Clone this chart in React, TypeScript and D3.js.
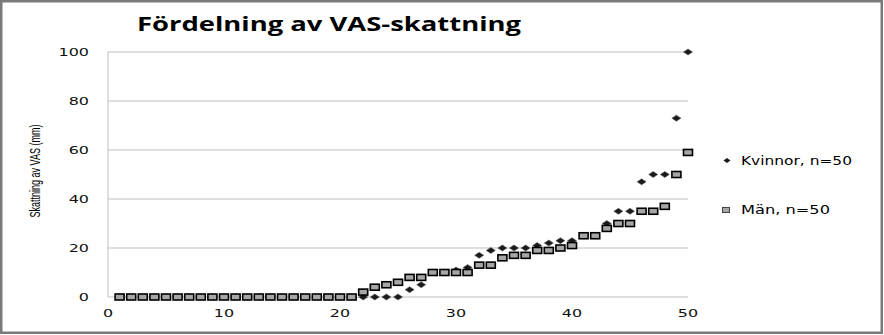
import React from "react";
import * as d3 from "d3";

const title = "Fördelning av VAS-skattning";
const yTitle = "Skattning av VAS (mm)";
const seriesNames = ["Kvinnor, n=50", "Män, n=50"];

const kvinnor = [
  0, 0, 0, 0, 0, 0, 0, 0, 0, 0,
  0, 0, 0, 0, 0, 0, 0, 0, 0, 0,
  0, 0, 0, 0, 0, 3, 5, 10, 10, 11,
  12, 17, 19, 20, 20, 20, 21, 22, 23, 23,
  25, 25, 30, 35, 35, 47, 50, 50, 73, 100,
];
const man = [
  0, 0, 0, 0, 0, 0, 0, 0, 0, 0,
  0, 0, 0, 0, 0, 0, 0, 0, 0, 0,
  0, 2, 4, 5, 6, 8, 8, 10, 10, 10,
  10, 13, 13, 16, 17, 17, 19, 19, 20, 21,
  25, 25, 28, 30, 30, 35, 35, 37, 50, 59,
];
const xTicks = [0, 10, 20, 30, 40, 50];
const yTicks = [0, 20, 40, 60, 80, 100];

const W = 884;
const H = 335;

export default function App() {
  const x = d3.scaleLinear().domain([0, 50]).range([108, 688]);
  const y = d3.scaleLinear().domain([0, 100]).range([297, 52]);
  const diamond = "M-4.5,0L0,-3L4.5,0L0,3Z";
  const tickFont = "'DejaVu Sans', Verdana, sans-serif";

  return (
    <svg
      width={W}
      height={H}
      style={{ position: "absolute", left: 0, top: 0, display: "block", background: "#fff" }}
    >
      <rect x={1.25} y={1.25} width={880.5} height={331.5} fill="#fff" stroke="#7a7a7a" strokeWidth={2.5} />

      <text
        x={137}
        y={31}
        fontFamily="'Open Sans', 'DejaVu Sans', sans-serif"
        fontWeight="bold"
        fontSize={20}
        textLength={384}
        lengthAdjust="spacingAndGlyphs"
        fill="#000"
      >
        {title}
      </text>

      {/* gridlines */}
      {yTicks.map((t) => (
        <line key={"g" + t} x1={x(0)} x2={x(50)} y1={y(t)} y2={y(t)} stroke="#d4d4d4" strokeWidth={1.5} />
      ))}
      <line x1={x(0)} x2={x(0)} y1={y(100)} y2={y(0)} stroke="#c8c8c8" strokeWidth={1.2} />

      {/* y tick labels */}
      {yTicks.map((t) => (
        <g key={"yt" + t} transform={`translate(89,${y(t) + 4}) scale(1.45,1)`}>
          <text textAnchor="end" fontFamily={tickFont} fontSize={11} fill="#111">
            {t}
          </text>
        </g>
      ))}
      {/* x tick labels */}
      {xTicks.map((t) => (
        <g key={"xt" + t} transform={`translate(${x(t)},317) scale(1.45,1)`}>
          <text textAnchor="middle" fontFamily={tickFont} fontSize={11} fill="#111">
            {t}
          </text>
        </g>
      ))}

      {/* y title */}
      <text
        transform={`translate(40,171) rotate(-90)`}
        textAnchor="middle"
        fontFamily="'Liberation Sans Narrow', 'Liberation Sans', sans-serif"
        fontSize={14}
        textLength={93}
        lengthAdjust="spacingAndGlyphs"
        fill="#000"
      >
        {yTitle}
      </text>

      {/* Kvinnor series */}
      {kvinnor.map((v, i) => (
        <path key={"k" + i} d={diamond} transform={`translate(${x(i + 1)},${y(v)})`} fill="#1a1a1a" stroke="#555" strokeWidth={0.6} />
      ))}
      {/* Män series */}
      {man.map((v, i) => (
        <rect
          key={"m" + i}
          x={x(i + 1) - 4.5}
          y={y(v) - 3}
          width={9}
          height={6}
          fill="#a6a6a6"
          stroke="#000"
          strokeWidth={1.6}
        />
      ))}

      {/* legend */}
      <path d="M-3.5,0L0,-2.5L3.5,0L0,2.5Z" transform="translate(727,160.5)" fill="#1a1a1a" />
      <text
        x={741}
        y={165}
        fontFamily={tickFont}
        fontSize={12}
        textLength={111}
        lengthAdjust="spacingAndGlyphs"
        fill="#000"
      >
        {seriesNames[0]}
      </text>
      <rect x={722.5} y={207.5} width={7} height={5} fill="#a6a6a6" stroke="#444" strokeWidth={1} />
      <text
        x={741}
        y={214}
        fontFamily={tickFont}
        fontSize={12}
        textLength={89}
        lengthAdjust="spacingAndGlyphs"
        fill="#000"
      >
        {seriesNames[1]}
      </text>
    </svg>
  );
}
